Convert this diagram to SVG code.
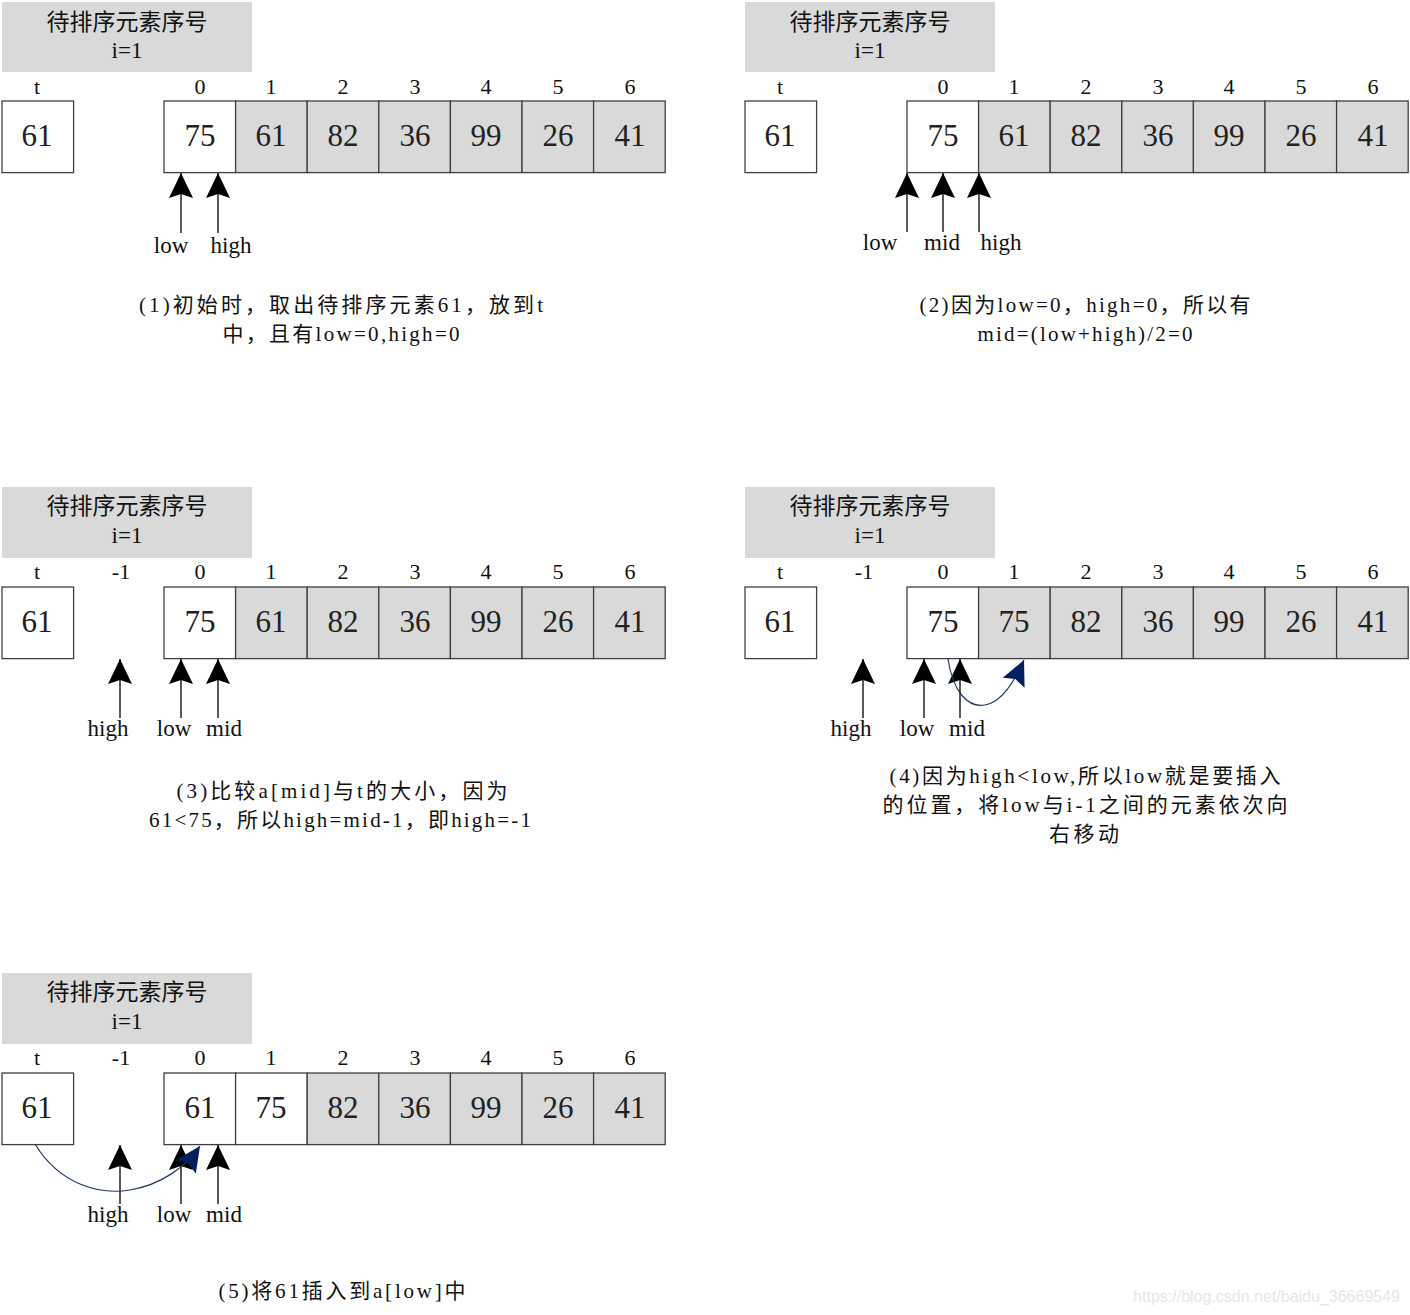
<svg xmlns="http://www.w3.org/2000/svg" width="1410" height="1315" viewBox="0 0 1410 1315">
<style>
.hdr{fill:#d9d9d9;stroke:none}
.w{fill:#ffffff;stroke:#404040;stroke-width:1.3}
.g{fill:#d9d9d9;stroke:#404040;stroke-width:1.3}
.ht{font-family:"Liberation Serif","Noto Sans CJK SC",serif;font-size:23px;fill:#111;text-anchor:middle}
.idx{font-family:"Liberation Serif","Noto Sans CJK SC",serif;font-size:22px;fill:#111;text-anchor:middle}
.num{font-family:"Liberation Serif","Noto Sans CJK SC",serif;font-size:31px;fill:#222;text-anchor:middle}
.lab{font-family:"Liberation Serif","Noto Sans CJK SC",serif;font-size:23px;fill:#111;text-anchor:middle}
.cap{font-family:"Liberation Serif","Noto Sans CJK SC",serif;font-size:21px;fill:#111;text-anchor:middle}
.arr{stroke:#000;stroke-width:1.3;fill:none;marker-end:url(#ah)}
.cur{stroke:#1f3864;stroke-width:1.2;fill:none;marker-end:url(#ahb)}
.wm{font-family:"Liberation Sans",sans-serif;font-size:16px;fill:#e6e6e6;text-anchor:end}
</style>
<defs>
<marker id="ah" markerUnits="userSpaceOnUse" markerWidth="30" markerHeight="30" viewBox="-2 -14 30 28" refX="25" refY="0" orient="auto">
<path d="M0,-12 L25,0 L0,12 L4,0 z" fill="#000"/>
</marker>
<marker id="ahb" markerUnits="userSpaceOnUse" markerWidth="30" markerHeight="30" viewBox="-2 -14 30 28" refX="25" refY="0" orient="auto">
<path d="M0,-12 L25,0 L0,12 L4,0 z" fill="#002060"/>
</marker>
</defs>

<!-- Panel 1 -->
<g id="panel1">
<g id="p1-header"><rect class="hdr" x="2" y="2" width="250" height="70"/><text class="ht" x="127" y="30">待排序元素序号</text><text class="ht" x="127" y="58">i=1</text></g>
<g id="p1-index"><text class="idx" x="37" y="94">t</text><text class="idx" x="200" y="94">0</text><text class="idx" x="271" y="94">1</text><text class="idx" x="343" y="94">2</text><text class="idx" x="415" y="94">3</text><text class="idx" x="486" y="94">4</text><text class="idx" x="558" y="94">5</text><text class="idx" x="630" y="94">6</text></g>
<g id="p1-t"><rect class="w" x="2" y="101" width="71.6" height="71.6"/><text class="num" x="37" y="146">61</text></g>
<g id="p1-array">
<rect class="w" x="164" y="101" width="71.6" height="71.6"/><rect class="g" x="235.6" y="101" width="71.6" height="71.6"/><rect class="g" x="307.2" y="101" width="71.6" height="71.6"/><rect class="g" x="378.8" y="101" width="71.6" height="71.6"/><rect class="g" x="450.4" y="101" width="71.6" height="71.6"/><rect class="g" x="522" y="101" width="71.6" height="71.6"/><rect class="g" x="593.6" y="101" width="71.6" height="71.6"/>
<text class="num" x="200" y="146">75</text><text class="num" x="271" y="146">61</text><text class="num" x="343" y="146">82</text><text class="num" x="415" y="146">36</text><text class="num" x="486" y="146">99</text><text class="num" x="558" y="146">26</text><text class="num" x="630" y="146">41</text>
</g>
<g id="p1-labels"><text class="lab" x="171" y="253">low</text><text class="lab" x="231" y="253">high</text></g>
<g id="p1-caption"><text class="cap" x="341" y="312" textLength="404" lengthAdjust="spacing">(1)初始时，取出待排序元素61，放到t</text><text class="cap" x="341" y="341" textLength="237" lengthAdjust="spacing">中，且有low=0,high=0</text></g>
</g>

<!-- Panel 2 -->
<g id="panel2" transform="translate(743,0)">
<g id="p2-header"><rect class="hdr" x="2" y="2" width="250" height="70"/><text class="ht" x="127" y="30">待排序元素序号</text><text class="ht" x="127" y="58">i=1</text></g>
<g id="p2-index"><text class="idx" x="37" y="94">t</text><text class="idx" x="200" y="94">0</text><text class="idx" x="271" y="94">1</text><text class="idx" x="343" y="94">2</text><text class="idx" x="415" y="94">3</text><text class="idx" x="486" y="94">4</text><text class="idx" x="558" y="94">5</text><text class="idx" x="630" y="94">6</text></g>
<g id="p2-t"><rect class="w" x="2" y="101" width="71.6" height="71.6"/><text class="num" x="37" y="146">61</text></g>
<g id="p2-array">
<rect class="w" x="164" y="101" width="71.6" height="71.6"/><rect class="g" x="235.6" y="101" width="71.6" height="71.6"/><rect class="g" x="307.2" y="101" width="71.6" height="71.6"/><rect class="g" x="378.8" y="101" width="71.6" height="71.6"/><rect class="g" x="450.4" y="101" width="71.6" height="71.6"/><rect class="g" x="522" y="101" width="71.6" height="71.6"/><rect class="g" x="593.6" y="101" width="71.6" height="71.6"/>
<text class="num" x="200" y="146">75</text><text class="num" x="271" y="146">61</text><text class="num" x="343" y="146">82</text><text class="num" x="415" y="146">36</text><text class="num" x="486" y="146">99</text><text class="num" x="558" y="146">26</text><text class="num" x="630" y="146">41</text>
</g>
<g id="p2-labels"><text class="lab" x="137" y="250">low</text><text class="lab" x="199" y="250">mid</text><text class="lab" x="258" y="250">high</text></g>
<g id="p2-caption"><text class="cap" x="342" y="312" textLength="331" lengthAdjust="spacing">(2)因为low=0，high=0，所以有</text><text class="cap" x="342" y="341" textLength="215" lengthAdjust="spacing">mid=(low+high)/2=0</text></g>
</g>

<!-- Panel 3 -->
<g id="panel3" transform="translate(0,486)">
<g id="p3-header"><rect class="hdr" x="2" y="1" width="250" height="71"/><text class="ht" x="127" y="28">待排序元素序号</text><text class="ht" x="127" y="57">i=1</text></g>
<g id="p3-index"><text class="idx" x="37" y="93">t</text><text class="idx" x="121" y="93">-1</text><text class="idx" x="200" y="93">0</text><text class="idx" x="271" y="93">1</text><text class="idx" x="343" y="93">2</text><text class="idx" x="415" y="93">3</text><text class="idx" x="486" y="93">4</text><text class="idx" x="558" y="93">5</text><text class="idx" x="630" y="93">6</text></g>
<g id="p3-t"><rect class="w" x="2" y="101" width="71.6" height="71.6"/><text class="num" x="37" y="146">61</text></g>
<g id="p3-array">
<rect class="w" x="164" y="101" width="71.6" height="71.6"/><rect class="g" x="235.6" y="101" width="71.6" height="71.6"/><rect class="g" x="307.2" y="101" width="71.6" height="71.6"/><rect class="g" x="378.8" y="101" width="71.6" height="71.6"/><rect class="g" x="450.4" y="101" width="71.6" height="71.6"/><rect class="g" x="522" y="101" width="71.6" height="71.6"/><rect class="g" x="593.6" y="101" width="71.6" height="71.6"/>
<text class="num" x="200" y="146">75</text><text class="num" x="271" y="146">61</text><text class="num" x="343" y="146">82</text><text class="num" x="415" y="146">36</text><text class="num" x="486" y="146">99</text><text class="num" x="558" y="146">26</text><text class="num" x="630" y="146">41</text>
</g>
<g id="p3-labels"><text class="lab" x="108" y="250">high</text><text class="lab" x="174" y="250">low</text><text class="lab" x="224" y="250">mid</text></g>
<g id="p3-caption"><text class="cap" x="342" y="312" textLength="331" lengthAdjust="spacing">(3)比较a[mid]与t的大小，因为</text><text class="cap" x="340" y="341" textLength="382" lengthAdjust="spacing">61&lt;75，所以high=mid-1，即high=-1</text></g>
</g>

<!-- Panel 4 -->
<g id="panel4" transform="translate(743,486)">
<g id="p4-header"><rect class="hdr" x="2" y="1" width="250" height="71"/><text class="ht" x="127" y="28">待排序元素序号</text><text class="ht" x="127" y="57">i=1</text></g>
<g id="p4-index"><text class="idx" x="37" y="93">t</text><text class="idx" x="121" y="93">-1</text><text class="idx" x="200" y="93">0</text><text class="idx" x="271" y="93">1</text><text class="idx" x="343" y="93">2</text><text class="idx" x="415" y="93">3</text><text class="idx" x="486" y="93">4</text><text class="idx" x="558" y="93">5</text><text class="idx" x="630" y="93">6</text></g>
<g id="p4-t"><rect class="w" x="2" y="101" width="71.6" height="71.6"/><text class="num" x="37" y="146">61</text></g>
<g id="p4-array">
<rect class="w" x="164" y="101" width="71.6" height="71.6"/><rect class="g" x="235.6" y="101" width="71.6" height="71.6"/><rect class="g" x="307.2" y="101" width="71.6" height="71.6"/><rect class="g" x="378.8" y="101" width="71.6" height="71.6"/><rect class="g" x="450.4" y="101" width="71.6" height="71.6"/><rect class="g" x="522" y="101" width="71.6" height="71.6"/><rect class="g" x="593.6" y="101" width="71.6" height="71.6"/>
<text class="num" x="200" y="146">75</text><text class="num" x="271" y="146">75</text><text class="num" x="343" y="146">82</text><text class="num" x="415" y="146">36</text><text class="num" x="486" y="146">99</text><text class="num" x="558" y="146">26</text><text class="num" x="630" y="146">41</text>
</g>
<g id="p4-labels"><text class="lab" x="108" y="250">high</text><text class="lab" x="174" y="250">low</text><text class="lab" x="224" y="250">mid</text></g>
<g id="p4-caption"><text class="cap" x="342" y="297" textLength="391" lengthAdjust="spacing">(4)因为high&lt;low,所以low就是要插入</text><text class="cap" x="342" y="326" textLength="405" lengthAdjust="spacing">的位置，将low与i-1之间的元素依次向</text><text class="cap" x="341" y="355" textLength="70" lengthAdjust="spacing">右移动</text></g>
</g>

<!-- Panel 5 -->
<g id="panel5" transform="translate(0,972)">
<g id="p5-header"><rect class="hdr" x="2" y="1" width="250" height="71"/><text class="ht" x="127" y="28">待排序元素序号</text><text class="ht" x="127" y="57">i=1</text></g>
<g id="p5-index"><text class="idx" x="37" y="93">t</text><text class="idx" x="121" y="93">-1</text><text class="idx" x="200" y="93">0</text><text class="idx" x="271" y="93">1</text><text class="idx" x="343" y="93">2</text><text class="idx" x="415" y="93">3</text><text class="idx" x="486" y="93">4</text><text class="idx" x="558" y="93">5</text><text class="idx" x="630" y="93">6</text></g>
<g id="p5-t"><rect class="w" x="2" y="101" width="71.6" height="71.6"/><text class="num" x="37" y="146">61</text></g>
<g id="p5-array">
<rect class="w" x="164" y="101" width="71.6" height="71.6"/><rect class="w" x="235.6" y="101" width="71.6" height="71.6"/><rect class="g" x="307.2" y="101" width="71.6" height="71.6"/><rect class="g" x="378.8" y="101" width="71.6" height="71.6"/><rect class="g" x="450.4" y="101" width="71.6" height="71.6"/><rect class="g" x="522" y="101" width="71.6" height="71.6"/><rect class="g" x="593.6" y="101" width="71.6" height="71.6"/>
<text class="num" x="200" y="146">61</text><text class="num" x="271" y="146">75</text><text class="num" x="343" y="146">82</text><text class="num" x="415" y="146">36</text><text class="num" x="486" y="146">99</text><text class="num" x="558" y="146">26</text><text class="num" x="630" y="146">41</text>
</g>
<g id="p5-labels"><text class="lab" x="108" y="250">high</text><text class="lab" x="174" y="250">low</text><text class="lab" x="224" y="250">mid</text></g>
<g id="p5-caption"><text class="cap" x="342" y="326" textLength="247" lengthAdjust="spacing">(5)将61插入到a[low]中</text></g>
</g>

<!-- Connectors -->
<g id="connectors">
<line class="arr" x1="181" y1="233" x2="181" y2="173"/>
<line class="arr" x1="218" y1="233" x2="218" y2="173"/>
<line class="arr" x1="907" y1="232" x2="907" y2="173"/>
<line class="arr" x1="943" y1="232" x2="943" y2="173"/>
<line class="arr" x1="979" y1="232" x2="979" y2="173"/>
<line class="arr" x1="120" y1="718" x2="120" y2="659"/>
<line class="arr" x1="181" y1="718" x2="181" y2="659"/>
<line class="arr" x1="218" y1="718" x2="218" y2="659"/>
<line class="arr" x1="863" y1="718" x2="863" y2="659"/>
<line class="arr" x1="924" y1="718" x2="924" y2="659"/>
<line class="arr" x1="960" y1="718" x2="960" y2="659"/>
<path class="cur" d="M948,659 C953,692 968,708 985,705 C1002,702 1014,682 1024,660"/>
<line class="arr" x1="120" y1="1204" x2="120" y2="1145"/>
<line class="arr" x1="181" y1="1204" x2="181" y2="1145"/>
<line class="arr" x1="218" y1="1204" x2="218" y2="1145"/>
<path class="cur" d="M35,1144 C60,1185 100,1195 130,1190 C160,1185 185,1168 200,1146"/>
</g>

<text class="wm" x="1400" y="1302">https://blog.csdn.net/baidu_36669549</text>
</svg>
